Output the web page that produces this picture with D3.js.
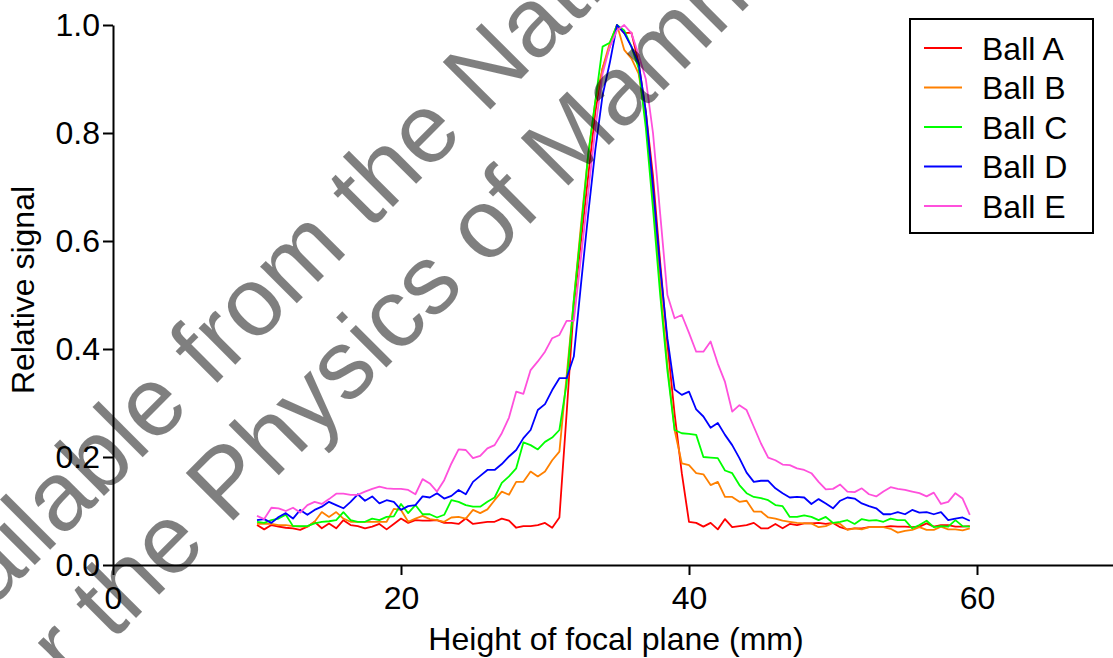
<!doctype html>
<meta charset="utf-8">
<style>
  body { margin: 0; background: #fff; }
  text { font-family: "Liberation Sans", Arial, sans-serif; }
</style>
<body>
<script src="https://cdn.jsdelivr.net/npm/d3@7"></script>
<script>
// focal plane heights (mm), sampled every 0.5 mm
var heights = d3.range(10, 60, 0.5);

var ballA = [
  0.074, 0.066, 0.074, 0.071, 0.069, 0.068, 0.065, 0.071, 0.080, 0.068, 0.077, 0.068, 0.083, 0.074, 0.072, 0.068, 0.071, 0.076, 0.066, 0.076,
  0.086, 0.078, 0.083, 0.082, 0.082, 0.083, 0.078, 0.078, 0.076, 0.086, 0.076, 0.078, 0.080, 0.080, 0.086, 0.082, 0.069, 0.072, 0.072, 0.074, 0.078, 0.069, 0.088, 0.28,
  0.48, 0.60, 0.72, 0.84, 0.92, 0.96, 1.0, 0.985, 0.986, 0.93, 0.84, 0.72, 0.56, 0.41,
  0.28, 0.17, 0.08, 0.078, 0.071, 0.078, 0.066, 0.085, 0.070, 0.072, 0.074, 0.078, 0.068, 0.068, 0.076, 0.068, 0.076, 0.074,
  0.077, 0.077, 0.078, 0.076, 0.078, 0.070, 0.066, 0.068, 0.068, 0.070, 0.070, 0.070, 0.072, 0.071, 0.071, 0.070, 0.071, 0.077, 0.071, 0.074, 0.074, 0.071, 0.071, 0.072
];
var ballB = [
  0.076, 0.076, 0.076, 0.074, 0.074, 0.072, 0.071, 0.071, 0.080, 0.098, 0.089, 0.098, 0.086, 0.080, 0.080, 0.080, 0.080, 0.080, 0.080, 0.104,
  0.102, 0.080, 0.086, 0.091, 0.085, 0.083, 0.080, 0.088, 0.089, 0.086, 0.102, 0.096, 0.103, 0.120, 0.136, 0.130, 0.154, 0.154, 0.173, 0.164, 0.173, 0.194, 0.210, 0.35,
  0.49, 0.63, 0.76, 0.86, 0.92, 0.967, 1.0, 0.954, 0.938, 0.91, 0.83, 0.68, 0.52, 0.37,
  0.25, 0.188, 0.185, 0.170, 0.168, 0.148, 0.154, 0.126, 0.126, 0.117, 0.119, 0.099, 0.099, 0.088, 0.086, 0.082, 0.080, 0.078,
  0.077, 0.077, 0.070, 0.072, 0.078, 0.076, 0.065, 0.068, 0.066, 0.070, 0.070, 0.070, 0.067, 0.060, 0.063, 0.065, 0.070, 0.065, 0.065, 0.071, 0.066, 0.066, 0.064, 0.068
];
var ballC = [
  0.080, 0.078, 0.083, 0.086, 0.093, 0.072, 0.072, 0.072, 0.077, 0.080, 0.081, 0.083, 0.098, 0.083, 0.080, 0.080, 0.086, 0.083, 0.089, 0.090,
  0.113, 0.096, 0.111, 0.094, 0.094, 0.088, 0.093, 0.120, 0.117, 0.111, 0.108, 0.108, 0.117, 0.125, 0.152, 0.164, 0.179, 0.227, 0.222, 0.214, 0.228, 0.236, 0.25, 0.336,
  0.49, 0.62, 0.76, 0.86, 0.96, 0.967, 1.0, 0.99, 0.96, 0.92, 0.81, 0.66, 0.50, 0.36,
  0.25, 0.244, 0.243, 0.241, 0.20, 0.199, 0.198, 0.175, 0.17, 0.148, 0.133, 0.126, 0.124, 0.120, 0.111, 0.109, 0.089, 0.089,
  0.092, 0.089, 0.083, 0.089, 0.078, 0.080, 0.083, 0.076, 0.085, 0.082, 0.083, 0.080, 0.086, 0.083, 0.083, 0.068, 0.074, 0.082, 0.070, 0.072, 0.071, 0.083, 0.072, 0.071
];
var ballD = [
  0.083, 0.085, 0.078, 0.089, 0.096, 0.086, 0.102, 0.093, 0.102, 0.108, 0.117, 0.111, 0.105, 0.117, 0.131, 0.119, 0.127, 0.114, 0.120, 0.117,
  0.102, 0.109, 0.111, 0.127, 0.125, 0.133, 0.123, 0.128, 0.139, 0.131, 0.154, 0.165, 0.176, 0.176, 0.187, 0.201, 0.213, 0.235, 0.25, 0.287, 0.298, 0.324, 0.346, 0.346,
  0.386, 0.52, 0.65, 0.77, 0.87, 0.93, 1.0, 0.985, 0.96, 0.93, 0.84, 0.70, 0.55, 0.42,
  0.325, 0.315, 0.321, 0.288, 0.275, 0.254, 0.263, 0.241, 0.222, 0.198, 0.171, 0.154, 0.156, 0.156, 0.142, 0.133, 0.125, 0.126,
  0.125, 0.113, 0.122, 0.114, 0.105, 0.119, 0.125, 0.123, 0.114, 0.109, 0.105, 0.094, 0.094, 0.098, 0.094, 0.102, 0.097, 0.098, 0.094, 0.098, 0.083, 0.086, 0.088, 0.082
];
var ballE = [
  0.091, 0.085, 0.106, 0.105, 0.100, 0.106, 0.097, 0.111, 0.117, 0.113, 0.122, 0.132, 0.132, 0.130, 0.130, 0.136, 0.141, 0.145, 0.142, 0.141,
  0.141, 0.139, 0.131, 0.159, 0.151, 0.136, 0.157, 0.188, 0.214, 0.213, 0.198, 0.202, 0.216, 0.222, 0.244, 0.273, 0.321, 0.317, 0.361, 0.377, 0.395, 0.420, 0.426, 0.452,
  0.452, 0.57, 0.69, 0.81, 0.91, 0.96, 0.99, 1.0, 0.985, 0.945, 0.90, 0.80, 0.65, 0.50,
  0.457, 0.463, 0.43, 0.395, 0.395, 0.414, 0.373, 0.339, 0.284, 0.296, 0.287, 0.256, 0.225, 0.199, 0.194, 0.186, 0.185, 0.179,
  0.176, 0.170, 0.154, 0.140, 0.141, 0.149, 0.136, 0.135, 0.142, 0.131, 0.127, 0.136, 0.144, 0.141, 0.139, 0.136, 0.133, 0.127, 0.134, 0.113, 0.117, 0.133, 0.123, 0.093
];

var seriesNames = ['Ball A', 'Ball B', 'Ball C', 'Ball D', 'Ball E'];
var seriesColors = ['#ff0000', '#ff8000', '#00ff00', '#0000ff', '#ff50dc'];
var xTicks = [0, 20, 40, 60];
var yTicks = [0, 0.2, 0.4, 0.6, 0.8, 1.0];
var watermarkLines = ['Available from the National Co-ordinating Centre', 'for the Physics of Mammography'];

var width = 1113, height = 658, fontSize = 32;
var svg = d3.select('body').append('svg').attr('width', width).attr('height', height);

var x = d3.scaleLinear().domain([0, 70]).range([113, 1121]);
var y = d3.scaleLinear().domain([0, 1]).range([565, 25]);

// axes
svg.append('g')
  .attr('transform', 'translate(0,' + y(0) + ')')
  .call(d3.axisBottom(x).tickValues(xTicks).tickFormat(d3.format('d')).tickSize(10).tickSizeOuter(0).tickPadding(11));
svg.append('g')
  .attr('transform', 'translate(' + x(0) + ',0)')
  .call(d3.axisLeft(y).tickValues(yTicks).tickFormat(d3.format('.1f')).tickSize(10).tickSizeOuter(0).tickPadding(3));

svg.selectAll('.domain, .tick line').attr('stroke', '#000').attr('stroke-width', 2);
svg.selectAll('.tick text').attr('font-size', fontSize).attr('fill', '#000')
  .style('font-family', '"Liberation Sans", Arial, sans-serif');

svg.append('text')
  .attr('x', 616).attr('y', 650)
  .attr('text-anchor', 'middle').attr('font-size', fontSize)
  .text('Height of focal plane (mm)');

svg.append('text')
  .attr('transform', 'translate(34,290) rotate(-90)')
  .attr('text-anchor', 'middle').attr('font-size', fontSize)
  .text('Relative signal');

// series lines
var series = [ballA, ballB, ballC, ballD, ballE];
var line = d3.line()
  .x(function(d, i){ return x(heights[i]); })
  .y(function(d){ return y(d); });

svg.append('g').selectAll('path')
  .data(series)
  .enter().append('path')
    .attr('d', line)
    .attr('fill', 'none')
    .attr('stroke', function(d, i){ return seriesColors[i]; })
    .attr('stroke-width', 1.8)
    .attr('stroke-linejoin', 'round');

// legend
var legend = svg.append('g');
legend.append('rect')
  .attr('x', 910).attr('y', 19).attr('width', 183).attr('height', 214)
  .attr('fill', '#fff').attr('stroke', '#000').attr('stroke-width', 2);
var rows = legend.selectAll('g.row')
  .data(seriesNames)
  .enter().append('g').attr('class', 'row')
    .attr('transform', function(d, i){ return 'translate(0,' + (48 + i * 39.5) + ')'; });
rows.append('line')
  .attr('x1', 924).attr('x2', 962)
  .attr('stroke', function(d, i){ return seriesColors[i]; })
  .attr('stroke-width', 2);
rows.append('text')
  .attr('x', 982).attr('dy', '0.36em').attr('font-size', fontSize)
  .text(function(d){ return d; });

// watermark, drawn on top
var wm = svg.append('g').attr('fill', '#000').attr('fill-opacity', 0.5)
  .attr('font-size', 98);
wm.append('text')
  .attr('transform', 'translate(-88,688) rotate(-45)')
  .text(watermarkLines[0]);
wm.append('text')
  .attr('transform', 'translate(12,742) rotate(-45)')
  .text(watermarkLines[1]);
</script>
</body>
